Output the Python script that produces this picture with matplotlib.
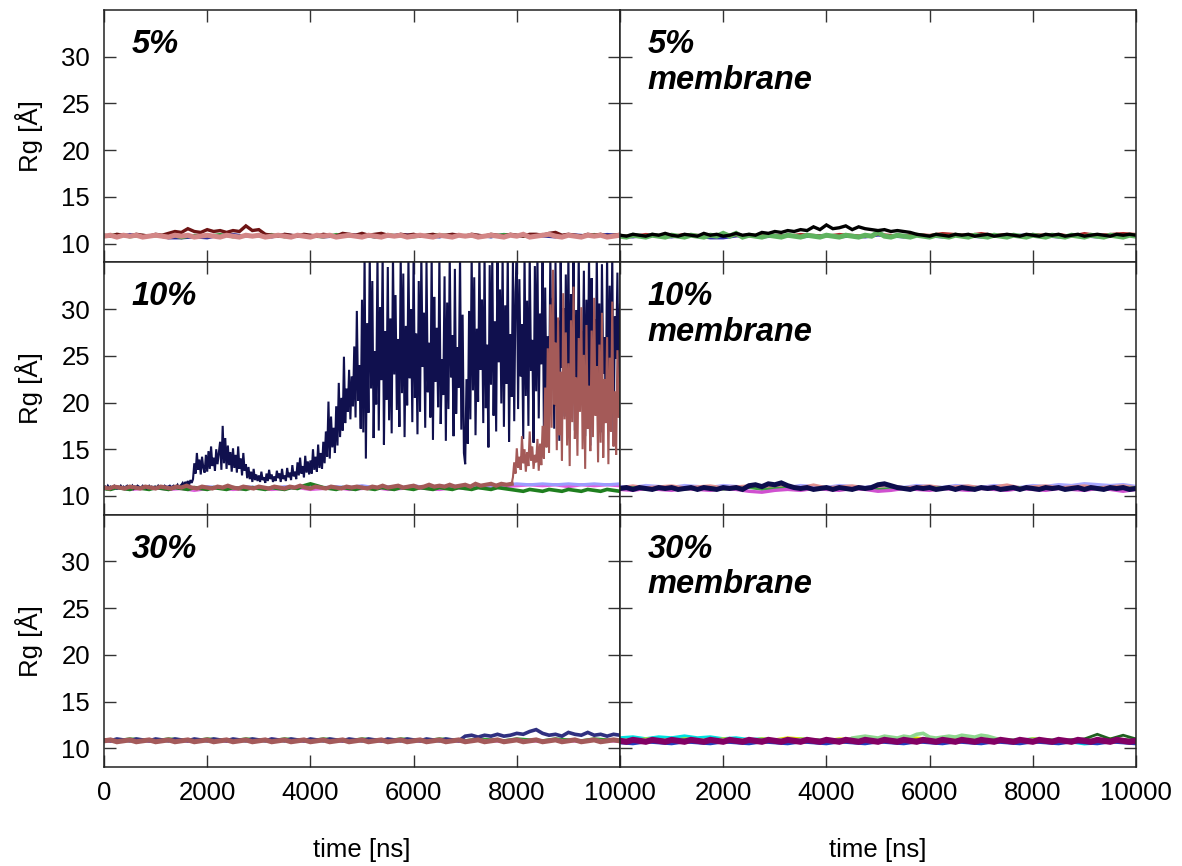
import numpy as np
import matplotlib
matplotlib.use('Agg')
import matplotlib.pyplot as plt

plt.rcParams['font.family'] = ['Liberation Sans', 'DejaVu Sans']

# ---- data: Rg [A] traces, each spans 0..10000 ns evenly ----
T_END = 10000

# 5%
p5_navy = [10.9, 10.7, 11.0, 10.8, 10.9, 10.6, 10.6, 10.7, 10.6, 10.9, 11.0, 10.8, 10.9, 10.7, 11.0, 10.8, 10.9, 10.7, 10.8, 11.0,
           10.9, 10.7, 10.8, 11.0, 10.9, 10.8, 10.7, 11.0, 10.8, 10.9, 10.7, 11.0, 10.8, 10.9, 10.8, 10.7, 11.0, 10.9, 10.8, 11.0, 10.9]
p5_green = [10.8, 11.0, 10.7, 10.9, 10.8, 11.0, 10.6, 10.9, 10.8, 11.0, 10.7, 10.9, 10.8, 11.0, 10.7, 10.9, 10.8, 10.7, 11.0, 10.8,
            10.9, 10.7, 11.0, 10.8, 10.7, 10.9, 11.0, 10.8, 10.9, 10.7, 10.8, 11.0, 10.9, 10.7, 11.0, 10.8, 10.9, 10.7, 11.0, 10.8, 10.9]
p5_maroon = [10.9, 10.8, 11.0, 10.9, 10.8, 11.0, 10.9, 10.8, 11.0, 10.9,
             11.1, 11.3, 11.2, 11.6, 11.3, 11.2, 11.5, 11.3, 11.4, 11.2,
             11.4, 11.3, 11.9, 11.4, 11.5, 11.0, 10.9, 10.8, 11.0, 10.9,
             10.8, 11.0, 10.9, 10.8, 11.0, 10.9, 10.8, 11.1, 11.0, 10.9,
             11.1, 10.9, 11.0, 11.1, 10.9, 10.8, 11.0, 10.9, 11.0, 10.8,
             10.9, 11.0, 10.8, 10.9, 11.0, 10.9, 10.8, 11.0, 10.9, 10.8,
             11.0, 10.9, 10.8, 11.0, 10.9, 10.8, 11.0, 11.0, 10.9, 11.1,
             11.2, 10.9, 11.0, 10.9, 10.8, 11.0, 10.9, 11.0, 10.8, 10.9, 11.0]
p5_salmon = [10.8, 10.9, 10.7, 10.9, 10.8, 10.9, 10.7, 10.8, 10.9, 10.8,
             10.7, 10.9, 10.8, 10.9, 10.7, 10.8, 10.9, 10.8, 10.7, 10.9,
             10.8, 10.7, 10.9, 10.8, 10.9, 10.7, 10.8, 10.9, 10.8, 10.7,
             10.9, 10.8, 10.7, 10.9, 10.8, 10.9, 10.7, 10.8, 10.9, 10.8,
             10.7, 10.9, 10.8, 10.7, 10.9, 10.8, 10.9, 10.7, 10.8, 10.9,
             10.8, 10.7, 10.9, 10.8, 10.7, 10.9, 10.8, 10.9, 10.7, 10.8,
             10.9, 10.8, 10.7, 10.9, 10.8, 11.0, 10.7, 10.8, 10.9, 11.0,
             10.8, 10.7, 10.9, 10.8, 10.7, 10.9, 10.8, 10.9, 10.7, 10.8, 10.9]

# 5% membrane
pm5_blue = [10.8, 10.7, 10.9, 10.8, 10.7, 10.9, 10.8, 10.6, 10.6, 10.8, 10.9, 10.7, 10.8, 10.9, 10.7, 10.8, 10.9, 10.7, 10.8, 10.7,
            10.9, 10.8, 10.7, 10.9, 10.8, 10.7, 10.9, 10.8, 10.7, 10.9, 10.8, 10.9, 11.0, 10.8, 10.7, 10.9, 10.8, 10.7, 10.9, 10.8, 10.9]
pm5_red = [10.9, 10.8, 11.0, 10.9, 10.8, 11.0, 10.9, 10.8, 11.0, 10.9, 10.8, 11.0, 10.9, 10.8, 11.0, 10.9, 10.8, 11.0, 10.9, 10.8,
           11.0, 10.9, 10.8, 11.0, 10.9, 11.1, 11.0, 10.9, 11.1, 10.9, 11.0, 10.8, 11.0, 10.9, 11.0, 10.8, 11.1, 10.9, 11.0, 11.1, 11.0]
pm5_black = [10.9, 10.8, 11.0, 10.9, 10.8, 11.0, 10.9, 11.1, 10.9, 10.8, 11.0, 10.9, 10.8, 11.1, 10.9, 11.0, 10.8, 10.9, 11.1, 10.9, 11.0, 10.9,
             11.2, 11.1, 11.3, 11.2, 11.4, 11.3, 11.5, 11.4, 11.8, 11.5, 12.0, 11.6, 11.7, 11.9, 11.5, 11.8, 11.6, 11.5, 11.4, 11.5, 11.3, 11.4, 11.3, 11.2,
             11.0, 10.9, 10.8, 11.0, 10.9, 10.8, 11.0, 10.9, 11.0, 10.8, 10.9, 11.0, 10.8, 10.9, 11.0, 10.9, 10.8, 11.0, 10.9, 10.8,
             11.0, 10.9, 11.0, 10.8, 10.9, 11.0, 10.8, 10.9, 11.0, 10.9, 10.8, 11.0, 10.9, 11.0, 10.9]
pm5_green = [10.8, 10.7, 10.9, 10.8, 10.7, 10.9, 10.8, 10.7, 10.9, 10.8,
             10.7, 10.9, 10.8, 10.7, 10.9, 10.8, 11.1, 10.8, 11.1, 10.7,
             10.9, 10.8, 10.7, 10.9, 10.8, 10.7, 10.9, 10.8, 10.7, 10.9,
             10.8, 10.7, 10.9, 10.8, 10.7, 10.9, 10.8, 10.7, 10.9, 10.8,
             11.2, 10.8, 10.7, 10.9, 10.8, 10.7, 10.9, 10.8, 10.7, 10.9,
             10.8, 10.7, 10.9, 10.8, 10.7, 10.9, 10.8, 10.7, 10.9, 10.8,
             10.7, 10.9, 10.8, 10.7, 10.9, 10.8, 10.7, 10.9, 10.8, 10.7,
             10.9, 10.8, 10.7, 10.9, 10.8, 10.7, 10.9, 10.8, 10.7, 10.9, 10.8]

# 10%
p10_magenta = [10.8, 10.9, 10.7, 10.8, 10.9, 10.7, 10.8, 10.6, 10.8, 10.9, 10.7, 10.8, 10.9, 10.7, 10.8, 10.9, 10.7, 10.8, 10.9, 10.7,
               10.8, 10.9, 10.7, 10.8, 10.9, 10.8, 10.7, 10.9, 10.8, 10.9, 10.8, 11.0, 11.1, 11.2, 11.1, 11.2, 11.0, 11.2, 11.1, 11.2, 11.1]
p10_lavender = [10.9, 10.8, 11.0, 10.9, 10.8, 11.0, 10.9, 10.8, 11.0, 10.9, 10.8, 11.0, 10.9, 10.8, 11.0, 10.9, 11.1, 10.9, 11.0, 10.9,
                11.1, 10.9, 11.0, 10.9, 11.1, 10.9, 11.0, 11.1, 10.9, 11.0, 11.1, 11.2, 11.3, 11.2, 11.3, 11.2, 11.3, 11.2, 11.3, 11.2, 11.3]
p10_green = [10.8, 10.7, 10.9, 10.8, 10.7, 10.9, 10.8, 10.7, 10.9, 10.8,
             10.7, 10.9, 10.8, 10.7, 10.9, 10.8, 10.7, 10.9, 10.8, 10.7,
             10.9, 10.8, 10.7, 10.9, 10.8, 10.7, 10.9, 10.8, 10.7, 10.9,
             10.8, 11.1, 11.3, 11.1, 10.9, 10.8, 10.7, 10.9, 10.8, 10.7,
             10.9, 10.8, 10.7, 10.9, 10.8, 10.7, 10.9, 10.8, 10.7, 10.9,
             10.8, 10.7, 10.9, 10.8, 10.7, 10.9, 10.8, 10.7, 10.9, 10.8,
             10.7, 10.9, 10.8, 10.7, 10.6, 10.5, 10.7, 10.6, 10.5, 10.7,
             10.6, 10.5, 10.7, 10.6, 10.5, 10.7, 10.6, 10.5, 10.7, 10.6, 10.5]
# brown replica: flat up to 7900 ns, then unfolds
p10_brown_early = [10.9, 10.8, 11.0, 10.9, 10.8, 11.0, 10.9, 10.8, 11.0, 10.9,
                   10.8, 11.0, 10.9, 10.8, 11.0, 10.9, 11.1, 10.9, 10.8, 11.0,
                   10.9, 10.8, 11.0, 10.9, 11.1, 10.9, 10.8, 11.0, 10.9, 10.8,
                   11.0, 10.9, 10.8, 11.0, 10.9, 10.8, 11.0, 10.9, 11.1, 10.9,
                   10.8, 11.0, 10.9, 10.8, 11.0, 10.9, 10.8, 11.0, 10.9, 11.0,
                   10.9, 10.8, 11.0, 10.9, 11.1, 10.9, 11.0, 11.1, 10.9, 11.0,
                   11.1, 10.9, 11.0, 11.2, 11.0, 11.1, 11.0, 11.2, 11.0, 11.1,
                   11.2, 11.0, 11.3, 11.1, 11.2, 11.3, 11.1, 11.3, 11.2, 11.3]
p10_brown_late = [11.3, 12.0, 13.6, 12.4, 15.1, 13.0, 14.2, 12.8, 16.4, 13.5, 15.0, 12.6, 14.7, 13.2, 16.9, 13.8, 15.3, 12.9, 14.4, 13.6,
                  16.1, 12.7, 15.6, 13.3,
                  17.5, 14.0, 21.6, 15.2, 25.8, 14.6, 30.5, 17.3, 34.2, 19.8, 26.4, 14.9, 29.1, 16.5, 23.3, 13.8, 31.7, 18.2, 27.5, 15.4,
                  24.2, 13.2, 28.8, 17.9, 32.4, 16.1, 22.7, 14.3, 26.9, 19.0, 30.2, 15.0, 25.1, 12.9, 28.3, 17.2, 21.8, 14.8, 27.7, 16.3,
                  31.2, 18.6, 23.9, 13.6, 26.2, 15.7, 29.6, 14.1, 22.5, 17.8, 27.0, 13.4, 24.8, 16.9, 30.8, 15.3, 21.2, 14.4, 25.6, 18.4,
                  22.0]
# navy replica: unfolds from ~1750 ns (25 ns sampling)
p10_navy = [
    10.9, 11.0, 10.8, 11.1, 10.9, 11.0, 10.8, 11.0, 11.1, 10.9, 10.8, 11.0, 10.9, 11.1, 10.9, 11.0, 10.8, 11.0, 11.1, 10.9,
    11.0, 10.9, 11.1, 10.8, 11.0, 10.9, 11.1, 11.0, 10.8, 10.9, 11.1, 11.0, 10.9, 10.8, 11.0, 11.1, 10.9, 11.0, 10.8, 11.0,
    11.0, 10.9, 11.1, 10.9, 11.0, 11.0, 10.9, 11.1, 11.0, 10.8, 11.0, 11.1, 10.9, 11.0, 11.1, 10.9, 11.0, 11.2, 10.9, 11.1,
    11.2, 11.4, 11.1, 11.5, 11.3, 11.6, 11.2, 11.7, 11.4, 11.8, 13.5, 12.4, 14.6, 12.8, 13.9, 12.3, 14.2, 13.0, 12.5, 14.4,
    12.6, 14.8, 12.9, 15.3, 13.2, 14.1, 12.7, 15.0, 13.4, 14.6, 15.8, 12.8, 17.5, 13.5, 16.2, 12.9, 15.4, 13.3, 14.7, 12.6,
    15.1, 13.0, 14.4, 12.5, 15.3, 12.9, 14.0, 12.2, 14.6, 12.7, 13.4, 11.9, 13.1, 11.8, 12.6, 11.5, 12.9, 11.7, 12.3, 11.6,
    12.2, 11.5, 12.6, 11.7, 12.0, 11.4, 12.4, 11.6, 12.8, 11.8, 12.3, 11.5, 12.1, 11.6, 12.7, 11.9, 12.4, 11.5, 12.9, 11.8,
    12.2, 11.6, 13.0, 12.0, 12.5, 11.7, 13.3, 12.1, 12.6, 11.8, 13.6, 12.2, 14.1, 12.4, 13.2, 12.0, 14.3, 12.5, 13.7, 12.3,
    13.8, 12.4, 15.0, 12.8, 14.2, 12.6, 15.5, 13.0, 14.6, 12.9, 15.8, 13.5, 16.9, 14.2, 20.1, 14.0, 18.5, 15.2, 17.3, 14.6,
    19.6, 15.4, 22.1, 16.3, 20.5, 17.0, 24.9, 17.8, 21.5, 19.0, 23.5, 18.2, 22.8, 19.6, 26.0, 18.4, 29.8, 20.2, 24.0, 17.2,
    31.0, 16.8, 36.0, 14.0, 28.5, 18.9, 36.0, 21.5, 33.0, 16.2, 25.5, 19.8, 36.0, 17.0, 30.2, 22.4, 36.0, 15.5, 27.6, 20.3,
    34.5, 18.1, 29.0, 16.7, 36.0, 23.0, 31.5, 19.2, 26.8, 17.4, 36.0, 21.0, 33.8, 16.3, 28.2, 19.7, 35.5, 22.6, 30.0, 17.9,
    36.0, 20.5, 27.4, 16.6, 33.0, 19.0, 36.0, 23.8, 29.6, 17.3, 35.2, 21.1, 26.4, 18.4, 36.0, 16.0, 31.3, 22.2, 28.0, 19.5,
    36.0, 17.7, 24.6, 20.8, 33.5, 15.9, 30.7, 19.3, 36.0, 22.7, 27.2, 16.4, 34.3, 18.8, 25.9, 21.6, 36.0, 17.1, 29.4, 14.6,
    13.4, 22.5, 15.6, 29.8, 18.2, 36.0, 21.3, 33.4, 16.5, 27.9, 20.1, 36.0, 23.5, 31.0, 17.8, 36.0, 19.4, 26.2, 15.2, 34.7,
    21.9, 36.0, 18.6, 28.7, 16.9, 36.0, 24.3, 32.1, 19.9, 36.0, 17.4, 30.4, 22.0, 36.0, 15.8, 27.3, 20.6, 35.1, 18.0, 31.8,
    36.0, 19.3, 33.2, 22.8, 28.4, 16.1, 36.0, 20.7, 30.9, 17.5, 36.0, 23.4, 26.7, 15.7, 34.6, 21.2, 36.0, 18.3, 29.5, 24.1,
    36.0, 16.6, 32.3, 20.0, 27.1, 18.9, 36.0, 22.3, 31.2, 17.2, 35.0, 19.6, 28.8, 15.9, 36.0, 23.7, 30.1, 18.5, 33.7, 20.4,
    36.0, 18.1, 31.6, 24.4, 35.3, 17.0, 29.9, 21.4, 36.0, 19.7, 27.6, 22.9, 34.1, 16.4, 31.0, 20.2, 36.0, 15.4, 33.3, 25.8,
    28.9, 18.7, 36.0, 21.8, 30.6, 16.8, 34.8, 23.1, 27.0, 19.1, 36.0, 17.6, 32.5, 21.0, 36.0, 15.6, 29.2, 24.7, 33.9, 20.9, 30.5]

# 10% membrane
pm10_lavender = [11.0, 10.9, 11.1, 11.0, 10.9, 11.1, 11.0, 10.9, 11.1, 11.0, 10.9, 11.1, 11.0, 10.9, 11.1, 11.0, 10.9, 11.1, 11.0, 10.9,
                 11.1, 11.0, 10.9, 11.1, 11.0, 10.9, 11.1, 11.0, 10.9, 11.1, 11.0, 10.9, 11.1, 11.0, 11.2, 11.1, 11.3, 11.2, 11.1, 11.2, 11.0]
pm10_salmon = [10.9, 11.1, 10.9, 11.0, 11.1, 10.9, 11.0, 11.1, 10.9, 11.0, 11.1, 10.9, 11.0, 11.1, 10.9, 11.2, 10.9, 11.0, 11.1, 10.9,
               11.0, 11.1, 10.9, 11.0, 11.1, 10.9, 11.0, 11.1, 10.9, 11.0, 11.2, 10.9, 11.0, 11.1, 10.9, 11.0, 11.1, 10.9, 11.0, 11.1, 10.9]
pm10_magenta = [10.7, 10.6, 10.8, 10.7, 10.6, 10.8, 10.7, 10.6, 10.8, 10.7, 10.5, 10.4, 10.6, 10.7, 10.6, 10.8, 10.7, 10.6, 10.8, 10.7,
                10.5, 10.6, 10.8, 10.7, 10.6, 10.8, 10.7, 10.6, 10.8, 10.7, 10.6, 10.8, 10.7, 10.6, 10.8, 10.7, 10.6, 10.8, 10.7, 10.5, 10.7]
pm10_green = [10.8, 10.9, 10.7, 10.8, 10.9, 10.7, 10.8, 10.9, 10.7, 10.8, 10.9, 10.7, 10.8, 10.9, 10.7, 10.8, 10.9, 10.7, 10.8, 10.9,
              10.7, 10.8, 10.9, 10.7, 10.8, 10.9, 10.7, 10.8, 10.9, 10.7, 10.8, 10.9, 10.7, 10.8, 10.9, 10.7, 10.8, 10.9, 10.7, 10.8, 10.9]
pm10_navy = [10.8, 10.9, 10.7, 10.9, 10.8, 10.7, 10.9, 10.8, 10.9, 10.7,
             10.8, 10.9, 10.7, 10.9, 10.8, 10.7, 10.9, 10.8, 10.9, 10.7,
             11.1, 11.2, 11.0, 11.3, 11.2, 11.4, 11.1, 10.9, 10.8, 10.9,
             10.7, 10.8, 10.9, 10.7, 10.9, 10.8, 10.7, 10.9, 10.8, 10.9,
             11.2, 11.3, 11.1, 10.9, 10.8, 10.7, 10.9, 10.8, 10.9, 10.7,
             10.8, 10.9, 10.7, 10.9, 10.8, 10.7, 10.9, 10.8, 10.9, 10.7,
             10.8, 10.9, 10.7, 10.9, 10.8, 10.7, 10.9, 10.8, 10.9, 10.7,
             10.8, 10.9, 10.7, 10.9, 10.8, 10.7, 10.9, 10.8, 10.9, 10.7, 10.8]

# 30%
p30_green = [10.9, 10.8, 11.0, 10.9, 10.8, 11.0, 10.9, 10.8, 11.0, 10.9, 10.8, 11.0, 10.9, 10.8, 11.0, 10.9, 10.8, 11.0, 10.9, 10.8,
             11.0, 10.9, 10.8, 11.0, 10.9, 10.8, 11.0, 10.9, 10.8, 11.0, 10.9, 10.8, 11.0, 10.9, 10.8, 11.0, 10.9, 10.8, 11.0, 10.9, 10.8]
p30_magenta = [10.8, 10.7, 10.9, 10.8, 10.7, 10.9, 10.8, 10.7, 10.9, 10.8, 10.7, 10.9, 10.8, 11.0, 10.9, 10.8, 10.7, 10.9, 10.8, 10.7,
               10.9, 10.8, 10.7, 10.9, 10.8, 10.7, 10.9, 10.8, 10.7, 10.9, 10.8, 10.7, 10.9, 10.8, 10.7, 10.9, 10.8, 10.7, 10.9, 10.8, 10.7]
p30_navy = [10.9, 10.8, 11.0, 10.9, 10.8, 11.0, 10.9, 10.8, 11.0, 10.9,
            10.8, 11.0, 10.9, 10.8, 11.0, 10.9, 10.8, 11.0, 10.9, 10.8,
            11.0, 10.9, 10.8, 11.0, 10.9, 10.8, 11.0, 10.9, 10.8, 11.0,
            10.9, 10.8, 11.0, 10.9, 10.8, 11.0, 10.9, 10.8, 11.0, 10.9,
            10.8, 11.0, 10.9, 10.8, 11.0, 10.9, 10.8, 11.0, 10.9, 10.8,
            11.0, 10.9, 10.8, 11.0, 10.9, 10.8, 11.3, 11.4, 11.2, 11.4,
            11.3, 11.5, 11.3, 11.4, 11.6, 11.5, 11.8, 12.0, 11.6, 11.4,
            11.5, 11.3, 11.7, 11.5, 11.4, 11.7, 11.4, 11.5, 11.3, 11.5, 11.4]
p30_brown = [10.8, 10.9, 10.7, 10.8, 10.9, 10.7, 10.8, 10.9, 10.7, 10.8,
             10.9, 10.7, 10.8, 10.9, 10.7, 10.8, 10.9, 10.7, 10.8, 10.9,
             10.7, 10.8, 10.9, 10.7, 10.8, 10.9, 10.7, 10.8, 10.9, 10.7,
             10.8, 10.9, 10.7, 10.8, 10.9, 10.7, 10.8, 10.9, 10.7, 10.8,
             10.9, 10.7, 10.8, 10.9, 10.7, 10.8, 10.9, 10.7, 10.8, 10.9,
             10.7, 10.8, 10.9, 10.7, 10.8, 10.9, 10.7, 10.8, 10.9, 10.7,
             10.8, 10.9, 10.7, 10.8, 10.9, 10.7, 10.8, 10.9, 10.7, 10.8,
             10.9, 10.7, 10.8, 10.9, 10.7, 10.8, 10.9, 10.7, 10.8, 10.9, 10.8]

# 30% membrane
pm30_cyan = [11.1, 11.2, 11.0, 11.2, 11.1, 11.3, 11.1, 11.2, 11.0, 11.1, 10.9, 11.0, 10.8, 10.9, 11.0, 10.8, 10.9, 10.7, 10.9, 10.8,
             11.0, 10.8, 10.9, 10.7, 10.9, 10.8, 11.0, 10.8, 10.9, 10.7, 10.9, 10.8, 11.0, 10.8, 10.9, 10.7, 10.5, 10.6, 10.8, 10.9, 10.8]
pm30_yellow = [10.9, 10.8, 11.0, 10.9, 10.8, 11.0, 10.9, 10.8, 11.0, 10.9, 10.8, 11.0, 10.9, 11.1, 11.0, 10.9, 10.8, 11.0, 10.9, 10.8,
               11.0, 10.9, 10.8, 11.1, 10.9, 10.8, 11.2, 10.9, 10.8, 11.0, 10.9, 10.8, 11.0, 10.9, 10.8, 10.6, 10.9, 10.8, 11.0, 10.9, 10.8]
pm30_lgreen = [10.8, 10.9, 10.7, 10.8, 10.9, 10.7, 10.8, 10.9, 10.7, 10.8,
               10.9, 10.7, 10.8, 10.9, 10.7, 10.8, 10.9, 10.7, 10.8, 10.9,
               10.7, 10.8, 10.9, 10.7, 10.8, 10.9, 10.7, 10.8, 10.9, 10.7,
               10.8, 10.9, 10.7, 10.8, 10.9, 10.7, 11.1, 11.2, 11.3, 11.2,
               11.1, 11.3, 11.2, 11.1, 11.3, 11.2, 11.5, 11.6, 11.2, 11.1,
               11.2, 11.3, 11.2, 11.4, 11.3, 11.2, 11.4, 11.3, 11.1, 10.9,
               10.8, 10.9, 10.7, 10.8, 10.9, 10.7, 10.8, 10.9, 10.7, 10.8,
               10.9, 10.7, 10.8, 10.9, 10.7, 10.8, 10.9, 10.7, 10.8, 10.9, 10.8]
pm30_blue = [10.6, 10.5, 10.7, 10.6, 10.5, 10.7, 10.6, 10.5, 10.7, 10.6, 10.5, 10.7, 10.6, 10.5, 10.7, 10.6, 10.5, 10.7, 10.6, 10.5,
             10.7, 10.6, 10.5, 10.7, 10.6, 10.5, 10.7, 10.6, 10.5, 10.7, 10.6, 10.5, 10.7, 10.6, 10.5, 10.7, 10.6, 10.5, 10.7, 10.6, 10.5]
pm30_dgreen = [10.8, 10.9, 10.8, 10.9, 10.8, 10.9, 10.8, 10.9, 10.8, 10.9, 10.8, 10.9, 10.8, 10.9, 10.8, 10.9, 10.8, 10.9, 10.8, 10.9,
               10.8, 10.9, 10.8, 10.9, 10.8, 10.9, 10.8, 10.9, 10.8, 10.9, 10.8, 10.9, 10.8, 10.9, 10.8, 10.9, 11.0, 11.5, 11.0, 11.4, 11.0]
pm30_purple = [10.8, 10.7, 10.9, 10.8, 10.7, 10.9, 10.8, 10.7, 10.9, 10.8,
               10.7, 10.9, 10.8, 10.7, 10.9, 10.8, 10.7, 10.9, 10.8, 10.7,
               10.9, 10.8, 10.7, 10.9, 10.8, 10.7, 10.9, 10.8, 10.7, 10.9,
               10.8, 10.7, 10.9, 10.8, 10.7, 10.9, 10.8, 10.7, 10.9, 10.8,
               10.7, 10.9, 10.8, 10.7, 10.9, 10.8, 10.7, 10.9, 10.8, 10.7,
               10.9, 10.8, 10.7, 10.9, 10.8, 10.7, 10.9, 10.8, 10.7, 10.9,
               10.8, 10.7, 10.9, 10.8, 10.7, 10.9, 10.8, 10.7, 10.9, 10.8,
               10.7, 10.9, 10.8, 10.7, 10.9, 10.8, 10.7, 10.9, 10.8, 10.7, 10.8]

panel_labels = ['5%', '5%\nmembrane', '10%', '10%\nmembrane', '30%', '30%\nmembrane']
x_ticks = [0, 2000, 4000, 6000, 8000, 10000]
y_ticks = [10, 15, 20, 25, 30]


def trace(ax, vals, color, lw=2.0, t0=0, t1=T_END):
    t = np.linspace(t0, t1, len(vals))
    ax.plot(t, vals, color=color, linewidth=lw, solid_joinstyle='miter')


fig, axes = plt.subplots(3, 2, figsize=(11.82, 8.66), dpi=100)
fig.subplots_adjust(left=104/1182, right=1136/1182, top=1-10/866, bottom=1-767/866, wspace=0, hspace=0)

# 5%
ax = axes[0, 0]
trace(ax, p5_navy, '#2a2a9a')
trace(ax, p5_green, '#3c9a3c')
trace(ax, p5_maroon, '#6e1414', lw=2.4)
trace(ax, p5_salmon, '#d38686', lw=3.6)

# 5% membrane
ax = axes[0, 1]
trace(ax, pm5_blue, '#3030a8')
trace(ax, pm5_red, '#b02a2a')
trace(ax, pm5_green, '#5fb35f', lw=3.6)
trace(ax, pm5_black, '#000000', lw=2.4)

# 10%
ax = axes[1, 0]
trace(ax, p10_magenta, '#e060e0', lw=2.4)
trace(ax, p10_lavender, '#9c9cff', lw=2.2)
trace(ax, p10_green, '#1f7f1f', lw=2.6)
trace(ax, p10_navy, '#10104e', lw=1.5)
trace(ax, p10_brown_early, '#a45a58', lw=3.0, t0=0, t1=7900)
trace(ax, p10_brown_late, '#a45a58', lw=1.5, t0=7900, t1=T_END)

# 10% membrane
ax = axes[1, 1]
trace(ax, pm10_lavender, '#a8a8ff', lw=2.6)
trace(ax, pm10_salmon, '#e09090')
trace(ax, pm10_green, '#40a040')
trace(ax, pm10_magenta, '#d050d0', lw=2.4)
trace(ax, pm10_navy, '#0d0d4d', lw=3.6)

# 30%
ax = axes[2, 0]
trace(ax, p30_green, '#30a030', lw=2.4)
trace(ax, p30_magenta, '#e070e0')
trace(ax, p30_navy, '#303080', lw=2.6)
trace(ax, p30_brown, '#a45a5a', lw=3.6)

# 30% membrane
ax = axes[2, 1]
trace(ax, pm30_cyan, '#00e0e0', lw=2.6)
trace(ax, pm30_yellow, '#e0e000', lw=2.4)
trace(ax, pm30_lgreen, '#8fd88f', lw=2.6)
trace(ax, pm30_blue, '#2040c0', lw=2.4)
trace(ax, pm30_dgreen, '#206020', lw=2.0)
trace(ax, pm30_purple, '#820064', lw=4.4)

for i, ax in enumerate(axes.flat):
    row, col = divmod(i, 2)
    ax.set_xlim(0, T_END)
    ax.set_ylim(8, 35)
    ax.set_xticks(x_ticks)
    ax.set_yticks(y_ticks)
    ax.tick_params(direction='in', top=True, right=True, length=8.5, width=1.0,
                   labelsize=18.5, pad=10, color='#333333')
    for spine in ax.spines.values():
        spine.set_linewidth(1.1)
        spine.set_color('#222222')

    if col == 0:
        ax.set_yticklabels([str(v) for v in y_ticks])
        ax.set_ylabel('Rg [Å]', fontsize=18.5)
        ax.yaxis.set_label_coords(-0.118, 0.5)
    else:
        ax.set_yticklabels([])

    if row == 2:
        if col == 0:
            ax.set_xticklabels([str(v) for v in x_ticks])
        else:
            ax.set_xticklabels([''] + [str(v) for v in x_ticks[1:]])
        ax.set_xlabel('time [ns]', fontsize=18.5)
        ax.xaxis.set_label_coords(0.5, -0.28)
    else:
        ax.set_xticklabels([])

    ax.text(0.054, 0.925, panel_labels[i], transform=ax.transAxes,
            fontsize=23.5, fontweight='bold', fontstyle='italic',
            ha='left', va='top', linespacing=1.2)

plt.savefig('out.png', dpi=100)
plt.close(fig)
